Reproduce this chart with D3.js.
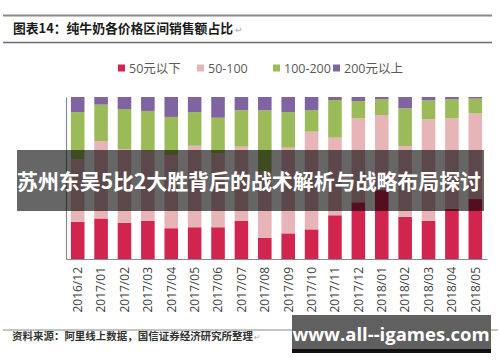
<!DOCTYPE html>
<html>
<head>
<meta charset="utf-8">
<script src="https://cdn.jsdelivr.net/npm/d3@7"></script>
<style>
  html, body { margin: 0; padding: 0; background: #fff; }
  svg { display: block; }
</style>
</head>
<body>
<svg id="chart" width="500" height="362"></svg>
<script>
const categories = ["2016/12","2017/01","2017/02","2017/03","2017/04","2017/05","2017/06","2017/07","2017/08","2017/09","2017/10","2017/11","2017/12","2018/01","2018/02","2018/03","2018/04","2018/05"];
const seriesNames = ["50元以下", "50-100", "100-200", "200元以上"];
const below50   = [23.0, 25.0, 22.4, 23.5, 19.0, 19.6, 19.6, 23.5, 13.0, 15.8, 18.3, 27.0, 35.0, 42.5, 26.0, 23.5, 31.0, 37.0];
const p50to100  = [38.7, 47.8, 45.5, 43.4, 45.2, 50.3, 45.6, 45.8, 40.9, 52.9, 60.3, 47.9, 51.8, 46.4, 43.7, 62.7, 55.8, 52.9];
const p100to200 = [29.0, 22.5, 24.7, 24.5, 23.5, 20.8, 22.0, 22.5, 37.9, 22.0, 13.2, 23.2, 10.7,  9.7, 23.3, 11.7, 11.8,  9.1];
const above200  = [ 9.3,  4.7,  7.4,  8.6, 12.3,  9.3, 12.8,  8.2,  8.2,  9.3,  8.2,  1.9,  2.5,  1.4,  7.0,  2.1,  1.4,  1.0];
const colors = ["#d1244e", "#e7b5b8", "#9bbb59", "#8064a2"];

const titleText = "图表14：纯牛奶各价格区间销售额占比";
const sourceText = "资料来源：阿里线上数据，国信证券经济研究所整理";
const bannerText = "苏州东吴5比2大胜背后的战术解析与战略布局探讨";
const watermarkText = "www.all--igames.com";

const table = categories.map((c, i) => ({
  cat: c,
  [seriesNames[0]]: below50[i],
  [seriesNames[1]]: p50to100[i],
  [seriesNames[2]]: p100to200[i],
  [seriesNames[3]]: above200[i]
}));

const svg = d3.select("#chart");

// header lines + title
svg.append("line").attr("x1", 3).attr("x2", 492).attr("y1", 15.5).attr("y2", 15.5)
  .attr("stroke", "#8a8a8a").attr("stroke-width", 2);
svg.append("line").attr("x1", 3).attr("x2", 492).attr("y1", 42.5).attr("y2", 42.5)
  .attr("stroke", "#6e6e6e").attr("stroke-width", 1.5);
svg.append("text").attr("x", 13).attr("y", 33)
  .attr("font-family", "'Noto Sans CJK SC', sans-serif").attr("font-weight", "bold")
  .attr("font-size", 13).attr("fill", "#1a1a1a")
  .attr("textLength", 220).attr("lengthAdjust", "spacingAndGlyphs")
  .text(titleText);
svg.append("text").attr("x", 235).attr("y", 33).attr("font-size", 9).attr("fill", "#aaa")
  .attr("font-family", "'DejaVu Sans', sans-serif").text("↵");

// scales
const x = d3.scaleBand().domain(categories).range([66, 487]).paddingInner(0.42).paddingOuter(0.21);
const y = d3.scaleLinear().domain([0, 100]).range([259, 97]);
const color = d3.scaleOrdinal().domain(seriesNames).range(colors);

const stacked = d3.stack().keys(seriesNames)(table);

svg.append("g").selectAll("g").data(stacked).join("g")
  .attr("fill", d => color(d.key))
  .selectAll("rect").data(d => d).join("rect")
  .attr("x", d => x(d.data.cat))
  .attr("width", x.bandwidth())
  .attr("y", d => y(d[1]))
  .attr("height", d => y(d[0]) - y(d[1]));

// axes
const xAxis = svg.append("g").attr("transform", "translate(0,259)")
  .call(d3.axisBottom(x).tickSize(0).tickSizeOuter(0));
xAxis.select(".domain").attr("stroke", "#8c8c8c").attr("stroke-width", 1.2);
xAxis.selectAll("text")
  .attr("font-family", "'Open Sans', sans-serif").attr("font-size", 12).attr("fill", "#3f3f3f")
  .attr("transform", "rotate(-90)")
  .attr("text-anchor", "end")
  .attr("x", -8).attr("y", 0).attr("dy", "0.36em");

const yAxis = svg.append("g").attr("transform", "translate(66,0)")
  .call(d3.axisLeft(y).tickValues([]).tickSizeOuter(0));
yAxis.select(".domain").attr("stroke", "#8c8c8c").attr("stroke-width", 1.2);

// legend
const legendX = [118, 197, 273, 333];
const lg = svg.append("g").selectAll("g").data(seriesNames).join("g")
  .attr("transform", (d, i) => `translate(${legendX[i]},68)`);
lg.append("rect").attr("x", 0).attr("y", -3.5).attr("width", 7).attr("height", 7)
  .attr("fill", d => color(d));
lg.append("text").attr("x", 11).attr("y", 0).attr("dy", "0.36em")
  .attr("font-family", "'Open Sans', 'Noto Sans CJK SC', sans-serif")
  .attr("font-size", 12.5).attr("fill", "#595959").text(d => d);

// bottom separator + source
svg.append("line").attr("x1", 3).attr("x2", 498).attr("y1", 330).attr("y2", 330)
  .attr("stroke", "#8a8a8a").attr("stroke-width", 1.2);
svg.append("text").attr("x", 12).attr("y", 340)
  .attr("font-family", "'Noto Sans CJK SC', sans-serif").attr("font-weight", "bold")
  .attr("font-size", 10.5).attr("fill", "#333")
  .attr("textLength", 241).attr("lengthAdjust", "spacingAndGlyphs")
  .text(sourceText);
svg.append("text").attr("x", 254).attr("y", 340).attr("font-size", 8).attr("fill", "#aaa")
  .attr("font-family", "'DejaVu Sans', sans-serif").text("↵");

// overlay banner
svg.append("rect").attr("x", 17).attr("y", 150).attr("width", 467).attr("height", 61)
  .attr("fill", "rgba(0,0,0,0.6)");
svg.append("text").attr("x", 17).attr("y", 181).attr("dy", "0.36em")
  .attr("font-family", "'Noto Sans CJK SC', sans-serif").attr("font-weight", "bold")
  .attr("font-size", 21).attr("fill", "#fff")
  .attr("textLength", 464).attr("lengthAdjust", "spacingAndGlyphs")
  .text(bannerText);

// watermark box
svg.append("rect").attr("x", 292).attr("y", 315).attr("width", 199).attr("height", 38)
  .attr("fill", "#606060");
svg.append("rect").attr("x", 292).attr("y", 349).attr("width", 199).attr("height", 4)
  .attr("fill", "#111");
svg.append("text").attr("x", 391).attr("y", 335).attr("dy", "0.35em")
  .attr("text-anchor", "middle")
  .attr("font-family", "'Open Sans', sans-serif").attr("font-weight", "bold")
  .attr("font-size", 18.5).attr("fill", "#fff")
  .text(watermarkText);
</script>
</body>
</html>
